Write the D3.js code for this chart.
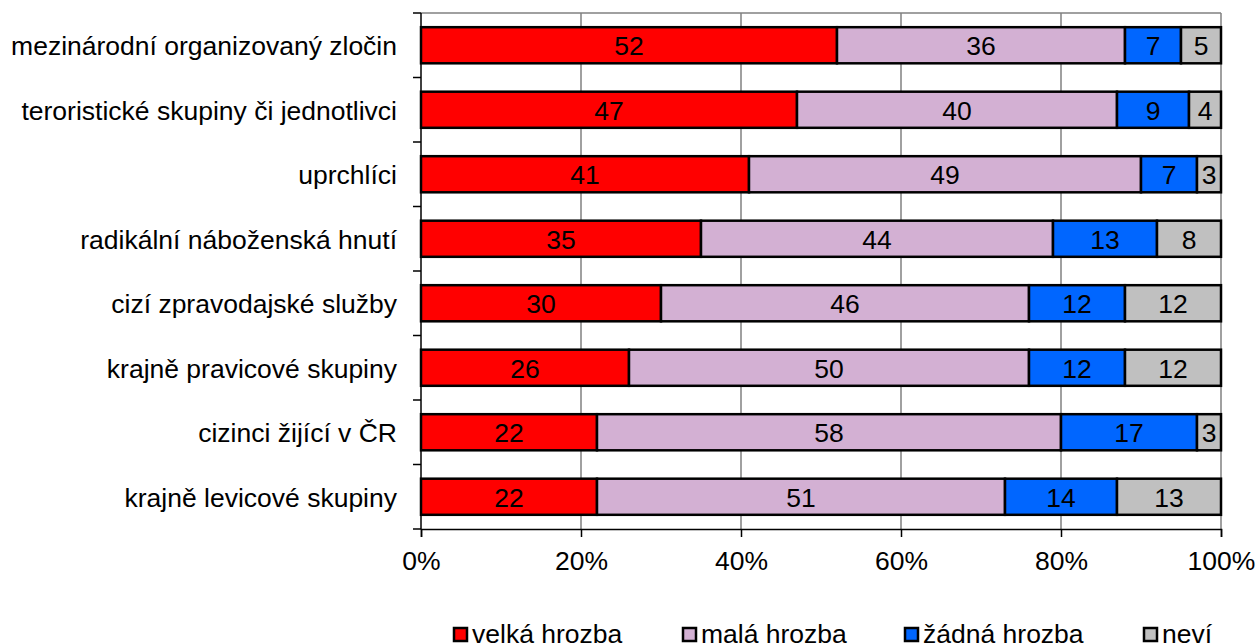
<!DOCTYPE html>
<html>
<head>
<meta charset="utf-8">
<script src="https://cdn.jsdelivr.net/npm/d3@7"></script>
<style>
  body { margin: 0; background: #fff; }
  text { font-family: "Liberation Sans", Arial, sans-serif; }
</style>
</head>
<body>
<div id="chart"></div>
<script>
// Data
var categories = [
  "mezinárodní organizovaný zločin",
  "teroristické skupiny či jednotlivci",
  "uprchlíci",
  "radikální náboženská hnutí",
  "cizí zpravodajské služby",
  "krajně pravicové skupiny",
  "cizinci žijící v ČR",
  "krajně levicové skupiny"
];
var seriesNames = ["velká hrozba", "malá hrozba", "žádná hrozba", "neví"];
var velka = [52, 47, 41, 35, 30, 26, 22, 22];
var mala = [36, 40, 49, 44, 46, 50, 58, 51];
var zadna = [7, 9, 7, 13, 12, 12, 17, 14];
var nevi = [5, 4, 3, 8, 12, 12, 3, 13];
var xTicks = [0, 20, 40, 60, 80, 100];

var colors = ["#ff0000", "#d3b0d3", "#0066ff", "#c0c0c0"];

var svgWidth = 1258;
var svgHeight = 643;
var margin = { top: 13, right: 37, bottom: 114, left: 421 };
var width = svgWidth - margin.left - margin.right;
var height = svgHeight - margin.top - margin.bottom;

var svg = d3.select("#chart")
  .append("svg")
  .attr("width", svgWidth)
  .attr("height", svgHeight);

var chartGroup = svg.append("g")
  .attr("transform", `translate(${margin.left}, ${margin.top})`);

// table built from the arrays
var table = categories.map(function(c, i) {
  return { cat: c, "velká hrozba": velka[i], "malá hrozba": mala[i], "žádná hrozba": zadna[i], "neví": nevi[i] };
});
var stacked = d3.stack().keys(seriesNames)(table);

var xScale = d3.scaleLinear().domain([0, 100]).range([0, width]);
var yScale = d3.scaleBand().domain(categories).range([0, height]).paddingInner(0.44).paddingOuter(0.22);
var bandStep = height / categories.length;

// gridlines
chartGroup.append("g")
  .selectAll("line")
  .data(xTicks.slice(1))
  .enter()
  .append("line")
  .attr("x1", d => xScale(d))
  .attr("x2", d => xScale(d))
  .attr("y1", 0)
  .attr("y2", height)
  .attr("stroke", "#808080")
  .attr("stroke-width", 1.5);

// top border
chartGroup.append("line")
  .attr("x1", 0).attr("x2", width)
  .attr("y1", 0).attr("y2", 0)
  .attr("stroke", "#808080")
  .attr("stroke-width", 1.5);

// bars
var layers = chartGroup.selectAll(".layer")
  .data(stacked)
  .enter()
  .append("g")
  .attr("fill", (d, i) => colors[i]);

layers.selectAll("rect")
  .data(d => d)
  .enter()
  .append("rect")
  .attr("x", d => xScale(d[0]))
  .attr("y", d => yScale(d.data.cat))
  .attr("width", d => xScale(d[1]) - xScale(d[0]))
  .attr("height", yScale.bandwidth())
  .attr("stroke", "#000")
  .attr("stroke-width", 2.5);

layers.selectAll("text")
  .data(d => d)
  .enter()
  .append("text")
  .text(d => d[1] - d[0])
  .attr("x", d => (xScale(d[0]) + xScale(d[1])) / 2)
  .attr("y", d => yScale(d.data.cat) + yScale.bandwidth() / 2 + 1)
  .attr("text-anchor", "middle")
  .attr("dominant-baseline", "central")
  .attr("font-size", "26.5px")
  .attr("fill", "#000");

// y axis
var yAxisG = chartGroup.append("g");
yAxisG.append("line")
  .attr("x1", 0).attr("x2", 0)
  .attr("y1", 0).attr("y2", height)
  .attr("stroke", "#000").attr("stroke-width", 1.5);
yAxisG.selectAll(".ytick")
  .data(d3.range(categories.length + 1))
  .enter()
  .append("line")
  .attr("x1", -8).attr("x2", 0)
  .attr("y1", d => d * bandStep)
  .attr("y2", d => d * bandStep)
  .attr("stroke", "#000").attr("stroke-width", 1.5);
yAxisG.selectAll(".ylabel")
  .data(categories)
  .enter()
  .append("text")
  .text(d => d)
  .attr("x", -24)
  .attr("y", d => yScale(d) + yScale.bandwidth() / 2 + 1)
  .attr("text-anchor", "end")
  .attr("dominant-baseline", "central")
  .attr("font-size", "26.5px")
  .attr("fill", "#000");

// x axis
var xAxis = d3.axisBottom(xScale)
  .tickValues(xTicks)
  .tickSize(8)
  .tickPadding(14)
  .tickFormat(d => d + "%");
var xAxisG = chartGroup.append("g")
  .attr("transform", `translate(0, ${height})`)
  .call(xAxis);
xAxisG.select(".domain").attr("stroke", "#000").attr("stroke-width", 1.5);
xAxisG.selectAll(".tick line").attr("stroke", "#000").attr("stroke-width", 1.5);
xAxisG.selectAll(".tick text")
  .attr("font-size", "26.5px")
  .attr("font-family", "Liberation Sans, Arial, sans-serif")
  .attr("fill", "#000");

// legend
var legendX = [453, 682, 904, 1143];
var legend = svg.append("g")
  .selectAll("g")
  .data(seriesNames)
  .enter()
  .append("g")
  .attr("transform", (d, i) => `translate(${legendX[i]}, 634)`);
legend.append("rect")
  .attr("x", 1).attr("y", -6)
  .attr("width", 13).attr("height", 13)
  .attr("fill", (d, i) => colors[i])
  .attr("stroke", "#000").attr("stroke-width", 2.5);
legend.append("text")
  .text(d => d)
  .attr("x", 19)
  .attr("y", 0)
  .attr("dominant-baseline", "central")
  .attr("font-size", "26.5px")
  .attr("fill", "#000");
</script>
</body>
</html>
